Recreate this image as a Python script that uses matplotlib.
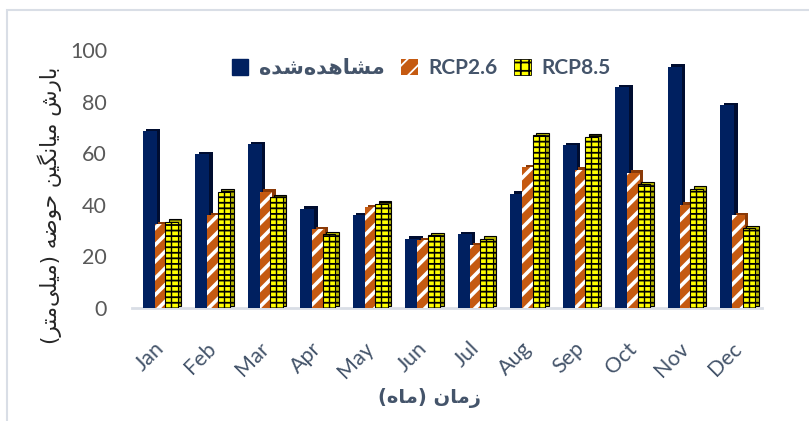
import matplotlib
matplotlib.use("Agg")
import matplotlib.pyplot as plt
import numpy as np
from matplotlib.patches import Patch, Rectangle
from matplotlib.transforms import ScaledTranslation

# ---------------- data ----------------
months = ["Jan", "Feb", "Mar", "Apr", "May", "Jun", "Jul", "Aug", "Sep", "Oct", "Nov", "Dec"]
observed = [68.5, 59.5, 63.5, 38.5, 36.0, 26.8, 28.5, 44.2, 63.0, 85.5, 93.5, 78.5]
rcp26 = [32.5, 36.0, 45.0, 30.5, 39.0, 26.3, 24.3, 54.5, 53.5, 52.5, 40.0, 36.0]
rcp85 = [33.5, 45.0, 43.0, 28.5, 40.5, 28.2, 26.8, 67.0, 66.3, 48.0, 46.3, 31.0]
series_names = ["مشاهده‌شده", "RCP2.6", "RCP8.5"]
ylabel_txt = "بارش میانگین حوضه (میلی‌متر)"
xlabel_txt = "زمان (ماه)"
yticks = [0, 20, 40, 60, 80, 100]

# ------------- minimal Persian shaping -------------
FORMS = {
    'ا': ('\uFE8D', '\uFE8E', None, None),
    'ب': ('\uFE8F', '\uFE90', '\uFE91', '\uFE92'),
    'ت': ('\uFE95', '\uFE96', '\uFE97', '\uFE98'),
    'ح': ('\uFEA1', '\uFEA2', '\uFEA3', '\uFEA4'),
    'د': ('\uFEA9', '\uFEAA', None, None),
    'ر': ('\uFEAD', '\uFEAE', None, None),
    'ز': ('\uFEAF', '\uFEB0', None, None),
    'ش': ('\uFEB5', '\uFEB6', '\uFEB7', '\uFEB8'),
    'ض': ('\uFEBD', '\uFEBE', '\uFEBF', '\uFEC0'),
    'ل': ('\uFEDD', '\uFEDE', '\uFEDF', '\uFEE0'),
    'م': ('\uFEE1', '\uFEE2', '\uFEE3', '\uFEE4'),
    'ن': ('\uFEE5', '\uFEE6', '\uFEE7', '\uFEE8'),
    'ه': ('\uFEE9', '\uFEEA', '\uFEEB', '\uFEEC'),
    'و': ('\uFEED', '\uFEEE', None, None),
    'ی': ('\uFBFC', '\uFBFD', '\uFBFE', '\uFBFF'),
    'گ': ('\uFB92', '\uFB93', '\uFB94', '\uFB95'),
}


def fa(text):
    chars = list(text)
    out = []
    for i, c in enumerate(chars):
        if c not in FORMS:
            out.append(c)
            continue
        iso, fin, ini, med = FORMS[c]
        prev = chars[i - 1] if i > 0 else None
        nxt = chars[i + 1] if i + 1 < len(chars) else None
        jp = prev in FORMS and FORMS[prev][2] is not None
        jn = ini is not None and nxt in FORMS
        if jp and jn:
            out.append(med)
        elif jp:
            out.append(fin)
        elif jn:
            out.append(ini)
        else:
            out.append(iso)
    s = ''.join(ch for ch in out if ch != '\u200c')
    mirror = {'(': ')', ')': '('}
    return ''.join(mirror.get(ch, ch) for ch in reversed(s))


FAM = ['Lato', 'DejaVu Sans']
plt.rcParams['font.family'] = FAM

navy = "#002060"
orange = "#C55A11"
yellow = "#FFFF00"
txtcol = "#44546A"

fig = plt.figure(figsize=(8.09, 4.21), dpi=100)
ax = fig.add_axes([132 / 809, 1 - 308 / 421, 630 / 809, 258 / 421])

x = np.arange(len(months))
offs = [-0.21, 0.0, 0.2]
widths = [0.27, 0.24, 0.24]
depth = ScaledTranslation(3.5 / 100, 2.5 / 100, fig.dpi_scale_trans)
back_tr = ax.transData + depth

# observed
ax.bar(x + offs[0], observed, widths[0], color="#000d30", transform=back_tr, zorder=1)
ax.bar(x + offs[0], observed, widths[0], color=navy, zorder=2)

# RCP2.6
plt.rcParams['hatch.linewidth'] = 2.6
ax.bar(x + offs[1], rcp26, widths[1], color="#8a3a08", transform=back_tr, zorder=3)
ax.bar(x + offs[1], rcp26, widths[1], color=orange, edgecolor="white", linewidth=0,
       hatch="//", zorder=4)

# RCP8.5
plt.rcParams['hatch.linewidth'] = 1.3
ax.bar(x + offs[2], rcp85, widths[2], color="#b5b500", edgecolor="black", linewidth=0.8,
       transform=back_tr, hatch="---", zorder=5)
ax.bar(x + offs[2], rcp85, widths[2], color=yellow, edgecolor="black", linewidth=0.8,
       hatch="---", zorder=6)
ax.vlines(x + offs[2], 0, rcp85, color="black", linewidth=1.0, zorder=7)

ax.set_xlim(-0.55, 11.45)
ax.set_ylim(0, 100)
ax.set_yticks(yticks)
ax.set_xticks(x)
ax.set_xticklabels(months, rotation=45, ha='right', va='center', rotation_mode='anchor')
ax.tick_params(axis='x', length=0, pad=27, labelsize=15.5, labelcolor=txtcol)
ax.tick_params(axis='y', length=0, pad=18, labelsize=15.5, labelcolor="#595959")
for s in ['top', 'right', 'left']:
    ax.spines[s].set_visible(False)
ax.spines['bottom'].set_color("#D9DEE6")
ax.spines['bottom'].set_linewidth(2)
ax.spines['bottom'].set_zorder(0)

fig.text(50 / 809, 1 - 205 / 421, fa(ylabel_txt), rotation=90, ha='center', va='center',
         fontsize=15.5, color="#262626", family=['DejaVu Sans'])
fig.text(430 / 809, 1 - 398 / 421, fa(xlabel_txt), ha='center', va='center',
         fontsize=14, color=txtcol, fontweight='bold', family=['DejaVu Sans'])

plt.rcParams['hatch.linewidth'] = 2.6
h1 = Patch(facecolor=navy, edgecolor=navy)
h2 = Patch(facecolor=orange, edgecolor="white", linewidth=0, hatch="//")
plt.rcParams['hatch.linewidth'] = 1.3
h3 = Patch(facecolor=yellow, edgecolor="black", linewidth=0.6, hatch="++")
leg = ax.legend([h1, h2, h3], [fa(series_names[0]), series_names[1], series_names[2]],
                ncol=3, loc='center', bbox_to_anchor=(421 / 809, 1 - 68 / 421),
                bbox_transform=fig.transFigure, frameon=False,
                handlelength=0.8, handleheight=0.8, handletextpad=0.5, columnspacing=0.8,
                prop={'family': FAM, 'weight': 'bold', 'size': 15})
for t in leg.get_texts():
    t.set_color(txtcol)

fig.add_artist(Rectangle((7 / 809, -0.2), 1.2, 1 - 10 / 421 + 0.2, transform=fig.transFigure,
                         fill=False, edgecolor="#D9DEE6", linewidth=1.5))

fig.savefig("out.png", dpi=100)
